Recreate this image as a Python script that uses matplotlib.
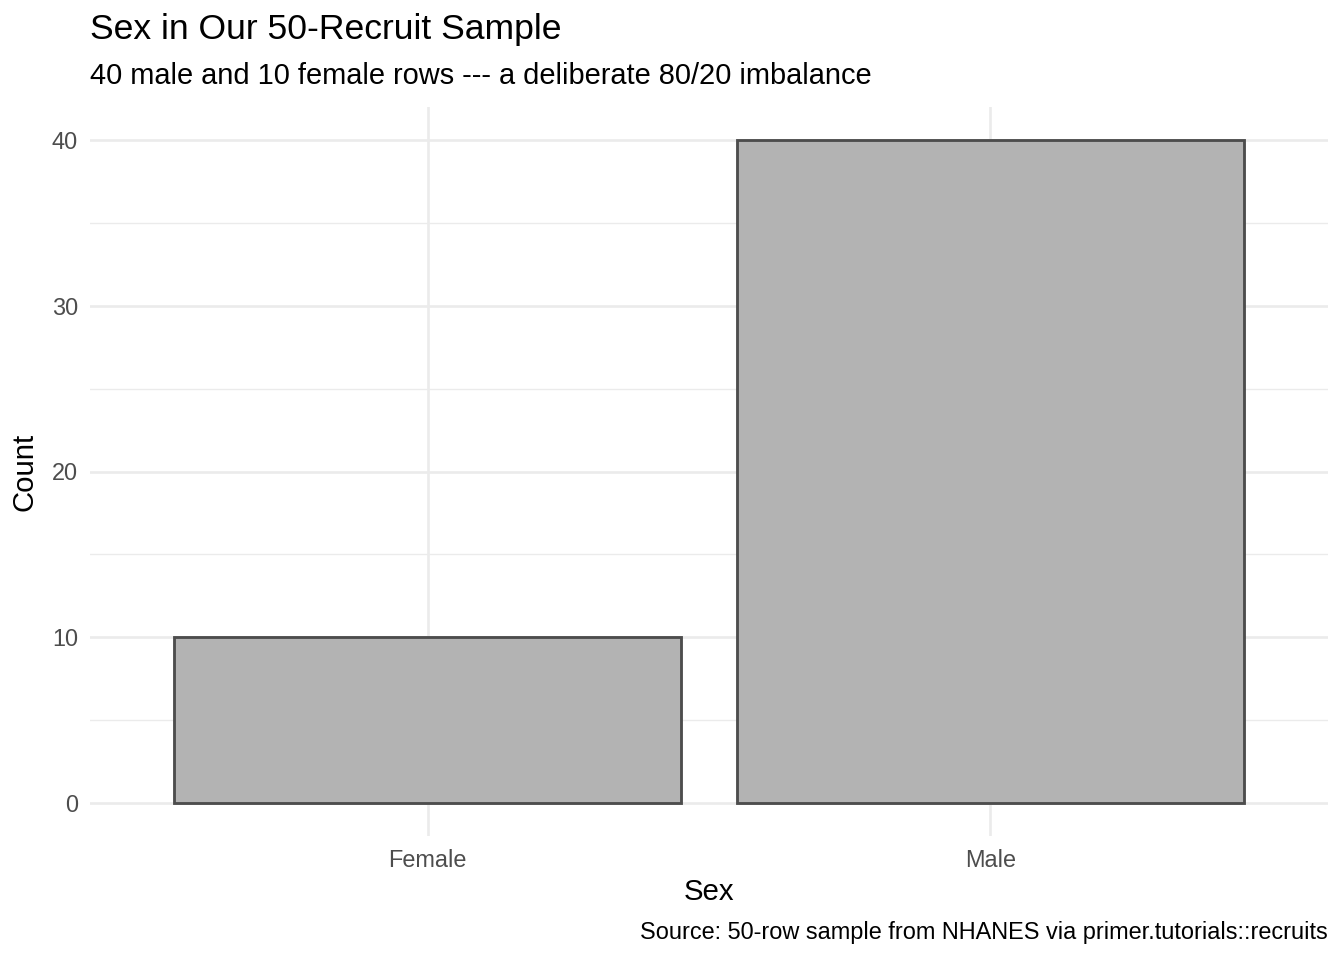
import matplotlib
matplotlib.use("Agg")
import matplotlib.pyplot as plt

plt.rcParams['font.family'] = ['Liberation Sans', 'DejaVu Sans']

sexes = ["Female", "Male"]
counts = [10, 40]
y_ticks = [0, 10, 20, 30, 40]
y_minor = [5, 15, 25, 35]

title = "Sex in Our 50-Recruit Sample"
subtitle = "40 male and 10 female rows --- a deliberate 80/20 imbalance"
caption = "Source: 50-row sample from NHANES via primer.tutorials::recruits"

W, H = 1344, 960
fig = plt.figure(figsize=(7, 5), dpi=192)
ax = fig.add_axes([90 / W, 1 - 836 / H, (1328 - 90) / W, (836 - 107) / H])

pos = list(range(1, len(sexes) + 1))
ax.bar(pos, counts, width=0.9, color="#B3B3B3", edgecolor="#4D4D4D",
       linewidth=1.07, zorder=3)

ax.set_xlim(0.4, 2.6)
ax.set_ylim(-2, 42)
ax.set_xticks(pos)
ax.set_xticklabels(sexes)
ax.set_yticks(y_ticks)
ax.set_yticks(y_minor, minor=True)

ax.grid(True, which="major", color="#EBEBEB", linewidth=1.0, zorder=0)
ax.grid(True, which="minor", axis="y", color="#EBEBEB", linewidth=0.5, zorder=0)
ax.set_axisbelow(True)
for s in ax.spines.values():
    s.set_visible(False)
ax.tick_params(which="both", length=0)
ax.tick_params(axis="both", labelsize=8.8, labelcolor="#4D4D4D")
ax.tick_params(axis="y", pad=4.5)
ax.tick_params(axis="x", pad=5)

fig.text(90 / W, 1 - 30 / H, title, fontsize=13.3, ha="left", va="center")
fig.text(90 / W, 1 - 76 / H, subtitle, fontsize=10.9, ha="left", va="center")
fig.text((90 + 1328) / 2 / W, 1 - 892 / H, "Sex", fontsize=11, ha="center", va="center")
fig.text(25 / W, 1 - 471.5 / H, "Count", fontsize=11, ha="center", va="center", rotation=90)
fig.text(1328 / W, 1 - 933 / H, caption, fontsize=8.8, ha="right", va="center")

fig.savefig("out.png", dpi=192)
